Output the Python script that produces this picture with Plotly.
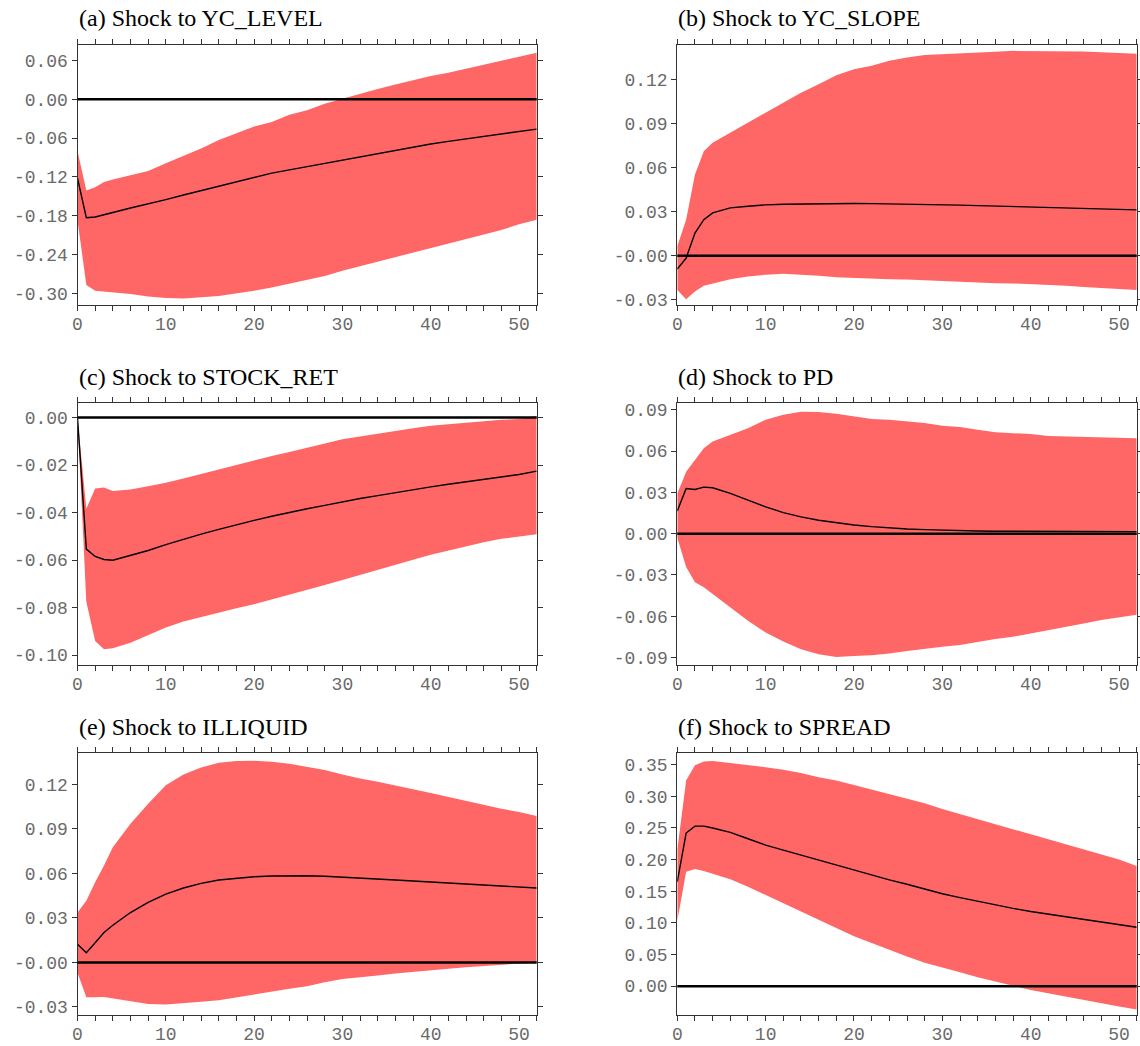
import plotly.graph_objects as go
from plotly.subplots import make_subplots

# horizon points (quarters)
T = [0, 1, 2, 3, 4, 6, 8, 10, 12, 14, 16, 18, 20, 22, 24, 26, 28, 30, 32, 34, 36, 38, 40, 42, 44, 46, 48, 50, 52]

titles = ["(a) Shock to YC_LEVEL", "(b) Shock to YC_SLOPE", "(c) Shock to STOCK_RET",
          "(d) Shock to PD", "(e) Shock to ILLIQUID", "(f) Shock to SPREAD"]

# (a)
a_mean = [-0.122, -0.183, -0.182, -0.179, -0.175, -0.168, -0.162, -0.155, -0.148, -0.141, -0.134, -0.127, -0.120,
          -0.114, -0.109, -0.104, -0.098, -0.093, -0.088, -0.083, -0.078, -0.074, -0.069, -0.065, -0.061, -0.057,
          -0.053, -0.049, -0.046]
a_up = [-0.080, -0.141, -0.136, -0.128, -0.124, -0.117, -0.111, -0.099, -0.088, -0.076, -0.063, -0.053, -0.042,
        -0.035, -0.024, -0.017, -0.007, 0.001, 0.009, 0.016, 0.023, 0.030, 0.036, 0.041, 0.047, 0.053, 0.060,
        0.065, 0.072]
a_lo = [-0.187, -0.287, -0.296, -0.297, -0.298, -0.301, -0.305, -0.307, -0.308, -0.306, -0.304, -0.300, -0.296,
        -0.291, -0.286, -0.279, -0.273, -0.265, -0.257, -0.250, -0.243, -0.236, -0.229, -0.222, -0.216, -0.209,
        -0.202, -0.193, -0.186]

# (b)
b_mean = [-0.0091, -0.0016, 0.0155, 0.0246, 0.0292, 0.0326, 0.0337, 0.0347, 0.0351, 0.0353, 0.0355, 0.0356, 0.0356,
          0.0355, 0.0354, 0.0352, 0.0350, 0.0347, 0.0345, 0.0342, 0.0339, 0.0336, 0.0333, 0.0330, 0.0327, 0.0324,
          0.0321, 0.0318, 0.0313]
b_up = [0.0064, 0.0246, 0.0554, 0.0713, 0.0771, 0.0839, 0.0903, 0.0976, 0.1044, 0.1112, 0.1169, 0.1231, 0.1272,
        0.1295, 0.1329, 0.1352, 0.1368, 0.1375, 0.1382, 0.1386, 0.1391, 0.1397, 0.1397, 0.1395, 0.1393, 0.1393,
        0.1388, 0.1382, 0.1377]
b_lo = [-0.0233, -0.0296, -0.0244, -0.0205, -0.0187, -0.0160, -0.0141, -0.0130, -0.0123, -0.0128, -0.0137, -0.0146,
        -0.0153, -0.0157, -0.0160, -0.0162, -0.0164, -0.0169, -0.0176, -0.0182, -0.0187, -0.0189, -0.0194, -0.0198,
        -0.0205, -0.0214, -0.0223, -0.0228, -0.0233]

# (c)
c_mean = [0.0, -0.0554, -0.0585, -0.0598, -0.0601, -0.0581, -0.0560, -0.0535, -0.0512, -0.0491, -0.0471, -0.0451,
          -0.0433, -0.0416, -0.0399, -0.0384, -0.0370, -0.0355, -0.0341, -0.0329, -0.0316, -0.0303, -0.0292,
          -0.0281, -0.0271, -0.0261, -0.0250, -0.0240, -0.0226]
c_up = [0.0, -0.0384, -0.0299, -0.0295, -0.0309, -0.0303, -0.0289, -0.0275, -0.0257, -0.0238, -0.0219, -0.0200,
        -0.0179, -0.0162, -0.0145, -0.0126, -0.0109, -0.0092, -0.0080, -0.0066, -0.0056, -0.0045, -0.0035, -0.0028,
        -0.0021, -0.0017, -0.0010, -0.0006, 0.0006]
c_lo = [0.0, -0.0776, -0.0941, -0.0976, -0.0972, -0.0948, -0.0915, -0.0884, -0.0859, -0.0842, -0.0821, -0.0803,
        -0.0786, -0.0766, -0.0746, -0.0726, -0.0705, -0.0684, -0.0663, -0.0642, -0.0621, -0.0599, -0.0578, -0.0560,
        -0.0542, -0.0525, -0.0511, -0.0501, -0.0492]

# (d)
d_mean = [0.0165, 0.0328, 0.0321, 0.0338, 0.0333, 0.0292, 0.0243, 0.0195, 0.0153, 0.0122, 0.0097, 0.0078, 0.0063,
          0.0051, 0.0041, 0.0034, 0.0029, 0.0024, 0.0021, 0.0019, 0.0018, 0.0017, 0.0016, 0.0015, 0.0015, 0.0015,
          0.0015, 0.0015, 0.0015]
d_up = [0.0290, 0.0450, 0.0535, 0.0620, 0.0669, 0.0718, 0.0766, 0.0827, 0.0864, 0.0886, 0.0883, 0.0871, 0.0852,
        0.0832, 0.0827, 0.0815, 0.0803, 0.0783, 0.0774, 0.0754, 0.0737, 0.0730, 0.0723, 0.0710, 0.0706, 0.0701,
        0.0701, 0.0698, 0.0693]
d_lo = [-0.0030, -0.0243, -0.0353, -0.0390, -0.0438, -0.0535, -0.0633, -0.0718, -0.0783, -0.0839, -0.0876, -0.0895,
        -0.0888, -0.0883, -0.0871, -0.0852, -0.0835, -0.0822, -0.0808, -0.0786, -0.0766, -0.0749, -0.0725, -0.0701,
        -0.0676, -0.0652, -0.0628, -0.0608, -0.0589]

# (e)
e_mean = [0.0122, 0.0065, 0.0133, 0.0201, 0.0250, 0.0336, 0.0404, 0.0460, 0.0501, 0.0532, 0.0555, 0.0568, 0.0577,
          0.0582, 0.0584, 0.0584, 0.0580, 0.0575, 0.0568, 0.0562, 0.0555, 0.0548, 0.0541, 0.0535, 0.0528, 0.0521,
          0.0514, 0.0508, 0.0501]
e_up = [0.0336, 0.0415, 0.0539, 0.0652, 0.0776, 0.0934, 0.1069, 0.1193, 0.1266, 0.1313, 0.1344, 0.1356, 0.1358,
        0.1351, 0.1338, 0.1317, 0.1295, 0.1266, 0.1238, 0.1216, 0.1189, 0.1166, 0.1141, 0.1114, 0.1092, 0.1065,
        0.1035, 0.1013, 0.0986]
e_lo = [-0.0070, -0.0235, -0.0235, -0.0232, -0.0246, -0.0262, -0.0280, -0.0284, -0.0273, -0.0264, -0.0255, -0.0235,
        -0.0217, -0.0196, -0.0178, -0.0160, -0.0133, -0.0111, -0.0097, -0.0088, -0.0074, -0.0061, -0.0052, -0.0043,
        -0.0032, -0.0020, -0.0014, -0.0007, 0.0000]

# (f)
f_mean = [0.165, 0.242, 0.253, 0.253, 0.250, 0.243, 0.233, 0.223, 0.215, 0.207, 0.199, 0.191, 0.184, 0.176, 0.168,
          0.161, 0.153, 0.146, 0.140, 0.134, 0.129, 0.123, 0.118, 0.114, 0.110, 0.105, 0.101, 0.097, 0.093]
f_up = [0.215, 0.325, 0.349, 0.355, 0.356, 0.353, 0.350, 0.346, 0.342, 0.337, 0.330, 0.325, 0.318, 0.311, 0.303,
        0.296, 0.289, 0.280, 0.272, 0.264, 0.256, 0.248, 0.240, 0.233, 0.225, 0.216, 0.208, 0.200, 0.190]
f_lo = [0.103, 0.181, 0.185, 0.182, 0.178, 0.169, 0.157, 0.145, 0.132, 0.119, 0.105, 0.092, 0.079, 0.068, 0.058,
        0.047, 0.037, 0.029, 0.022, 0.014, 0.007, 0.0005, -0.006, -0.011, -0.016, -0.022, -0.027, -0.032, -0.037]

# tick labels
x_tickvals = list(range(0, 53, 2))
x_ticktext = [str(v) if v % 10 == 0 else "" for v in x_tickvals]

a_ticks = [-0.30, -0.24, -0.18, -0.12, -0.06, 0.00, 0.06]
a_labels = ["-0.30", "-0.24", "-0.18", "-0.12", "-0.06", "0.00", "0.06"]
b_ticks = [-0.03, 0.00, 0.03, 0.06, 0.09, 0.12]
b_labels = ["-0.03", "-0.00", "0.03", "0.06", "0.09", "0.12"]
c_ticks = [-0.10, -0.08, -0.06, -0.04, -0.02, 0.00]
c_labels = ["-0.10", "-0.08", "-0.06", "-0.04", "-0.02", "0.00"]
d_ticks = [-0.09, -0.06, -0.03, 0.00, 0.03, 0.06, 0.09]
d_labels = ["-0.09", "-0.06", "-0.03", "0.00", "0.03", "0.06", "0.09"]
e_ticks = [-0.03, 0.00, 0.03, 0.06, 0.09, 0.12]
e_labels = ["-0.03", "-0.00", "0.03", "0.06", "0.09", "0.12"]
f_ticks = [0.00, 0.05, 0.10, 0.15, 0.20, 0.25, 0.30, 0.35]
f_labels = ["0.00", "0.05", "0.10", "0.15", "0.20", "0.25", "0.30", "0.35"]

panels = [
    (a_mean, a_up, a_lo, a_ticks, a_labels, [-0.318, 0.084]),
    (b_mean, b_up, b_lo, b_ticks, b_labels, [-0.0336, 0.1437]),
    (c_mean, c_up, c_lo, c_ticks, c_labels, [-0.1042, 0.0061]),
    (d_mean, d_up, d_lo, d_ticks, d_labels, [-0.0954, 0.0949]),
    (e_mean, e_up, e_lo, e_ticks, e_labels, [-0.0354, 0.141]),
    (f_mean, f_up, f_lo, f_ticks, f_labels, [-0.0456, 0.3685]),
]

W, H = 1140, 1046
col_px = [(77.5, 536.7), (677.3, 1136.7)]
row_px = [(45, 305), (403, 665), (753, 1015)]
title_y = [18, 377, 727]

fig = make_subplots(rows=3, cols=2)

BAND = "#FF6666"
AXC = "#333333"
TICKFONT = dict(family="Liberation Mono, Courier New, monospace", size=18, color="#6a6a6a")

annotations = []
for i, (mean, up, lo, yt, yl, yr) in enumerate(panels):
    r, c = i // 2 + 1, i % 2 + 1
    fig.add_trace(go.Scatter(x=T + T[::-1], y=up + lo[::-1], fill="toself", fillcolor=BAND,
                             line=dict(width=0, color=BAND), mode="lines", hoverinfo="skip",
                             showlegend=False), row=r, col=c)
    fig.add_hline(y=0, line=dict(color="black", width=2.5), row=r, col=c)
    fig.add_trace(go.Scatter(x=T, y=mean, mode="lines", line=dict(color="black", width=1.4),
                             showlegend=False), row=r, col=c)
    x0, x1 = col_px[c - 1]
    y0, y1 = row_px[r - 1]
    fig.update_xaxes(domain=[x0 / W, x1 / W], range=[0, 52], tickvals=x_tickvals, ticktext=x_ticktext,
                     ticks="outside", ticklen=5, tickcolor=AXC, showline=True, linecolor=AXC, linewidth=1,
                     mirror="ticks", showgrid=False, zeroline=False, tickfont=TICKFONT, automargin=False,
                     ticklabelstandoff=-3, row=r, col=c)
    fig.update_yaxes(domain=[1 - y1 / H, 1 - y0 / H], range=yr, tickvals=yt, ticktext=yl,
                     ticks="outside", ticklen=5, tickcolor=AXC, showline=True, linecolor=AXC, linewidth=1,
                     mirror="ticks", showgrid=False, zeroline=False, tickfont=TICKFONT, automargin=False,
                     row=r, col=c)
    annotations.append(dict(text=titles[i], xref="paper", yref="paper", x=x0 / W, y=1 - title_y[r - 1] / H,
                            xanchor="left", yanchor="middle", showarrow=False, borderpad=0,
                            font=dict(family="Liberation Serif, Times New Roman, serif", size=24, color="black")))

fig.update_layout(width=W, height=H, margin=dict(l=0, r=0, t=0, b=0), plot_bgcolor="white",
                  paper_bgcolor="white", annotations=annotations, showlegend=False)

fig.write_html("out.html", config={"displayModeBar": False},
               post_script="document.body.style.margin='0';document.body.style.overflow='hidden';")
